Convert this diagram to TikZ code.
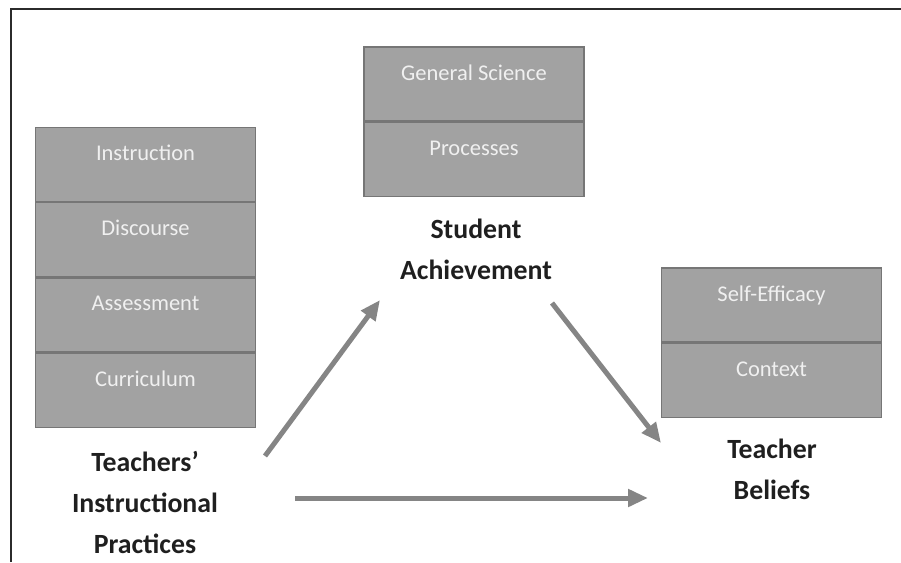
\documentclass[tikz,border=0pt]{standalone}
\usepackage{fontspec}
\setmainfont{Carlito}
\usepackage{xcolor}
\usetikzlibrary{positioning,arrows.meta}

\definecolor{cellfill}{HTML}{A2A2A2}
\definecolor{celledge}{HTML}{767676}
\definecolor{arrowgray}{HTML}{858585}
\definecolor{framegray}{HTML}{2B2B2B}

\tikzset{
  cell/.style={draw=celledge,line width=1.2pt,fill=cellfill,text=white!94!black,
    minimum width=220pt,inner ysep=8pt,text height=25pt,text depth=33pt,
    font=\fontsize{22.5}{26}\selectfont},
  heading/.style={align=center,font=\bfseries\fontsize{27.8}{41}\selectfont,text=black!88},
  link/.style={draw=arrowgray,line width=5pt,-{Triangle[length=20pt,width=17pt]}}
}

\begin{document}
\begin{tikzpicture}[x=1pt,y=-1pt]
            \useasboundingbox (0,0) rectangle (901,562);
            % open frame, only top and left edges
            \draw[framegray,line width=2.5pt] (11,562)--(11,9)--(901,9);

            % practices stack
            \node[cell] (instr) at (145.5,164.5) {Instruction};
            \node[cell,below=0pt of instr] (disc) {Discourse};
            \node[cell,below=0pt of disc] (assess) {Assessment};
            \node[cell,below=0pt of assess] (curr) {Curriculum};
            \node[heading] (practices) at (145,502) {Teachers’\\Instructional\\Practices};

            % achievement stack
            \node[cell] (gensci) at (474,84) {General Science};
            \node[cell,below=0pt of gensci] (proc) {Processes};
            \node[heading] (achieve) at (476,249) {Student\\Achievement};

            % beliefs stack
            \node[cell] (selfeff) at (771.5,305) {Self-Efficacy};
            \node[cell,below=0pt of selfeff] (context) {Context};
            \node[heading] (beliefs) at (772,469) {Teacher\\Beliefs};

            % arrow ends
            \coordinate (pa) at (265,456);
            \coordinate (pb) at (295,498);
            \coordinate (aa) at (380,300);
            \coordinate (ab) at (552,303);
            \coordinate (ba) at (661,443);
            \coordinate (bb) at (648,498);

            \draw[link] (pa)--(aa);
            \draw[link] (ab)--(ba);
            \draw[link] (pb)--(bb);
        \end{tikzpicture}
\end{document}
